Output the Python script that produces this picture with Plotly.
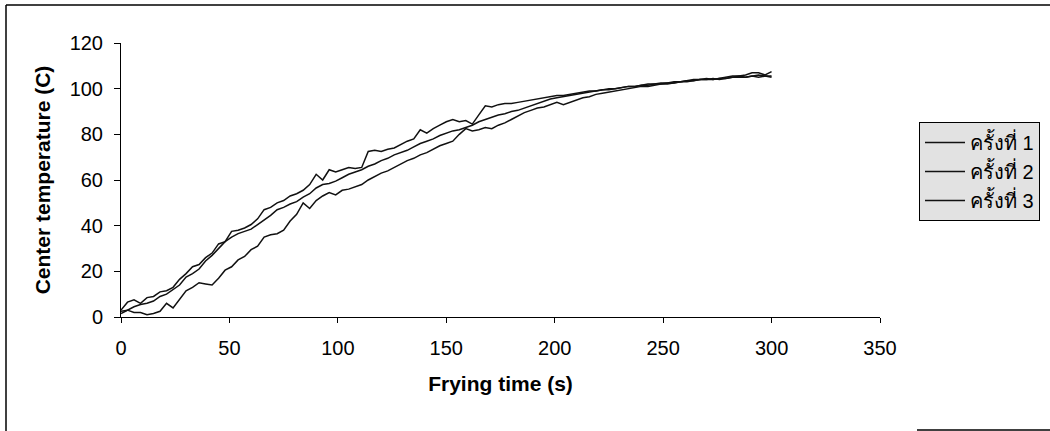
import plotly.graph_objects as go

# Frying time grid (s)
time_s = list(range(0, 301, 3))

# Center temperature (C) for each trial
trial1 = [
    1.5, 3, 4.5, 5.5, 6, 7, 9, 10, 12, 14,
    17.5, 19, 21, 24.5, 27, 30, 33, 35, 36.5, 37.5,
    38.5, 40.5, 42.5, 44.5, 47, 48, 49.5, 50.5, 52.5, 54,
    56.5, 58, 58.5, 59.5, 61, 62.5, 63.5, 64.5, 66, 67,
    68.5, 69.5, 71, 72, 73, 74.5, 76, 77, 78, 79.5,
    80.5, 81.5, 82, 83, 84, 85.5, 86.5, 87.5, 88.5, 89,
    90, 90.5, 91.5, 92.5, 93.5, 94.5, 95.5, 96, 96.5, 97,
    97.5, 98, 98.5, 99, 99.5, 99.5, 100, 100.5, 101, 101,
    101.5, 102, 102, 102.5, 102.5, 103, 103, 103.5, 103.5, 104,
    104, 104, 104.5, 104.5, 105, 105, 105, 105.5, 105, 105.5,
    105.5,
]
trial2 = [
    3, 6.5, 7.5, 6, 8.5, 9, 11, 11.5, 13, 16.5,
    19, 22, 23, 26, 28, 32, 33, 37.5, 38, 39,
    40.5, 43, 47, 48, 50, 51, 53, 54, 55.5, 58,
    62.5, 60, 64.5, 63.5, 64.5, 65.5, 65, 65.5, 72.5, 73,
    72.5, 73.5, 74, 75.5, 77, 78, 82, 80.5, 82.5, 84,
    85.5, 86.5, 85.5, 86, 84.5, 88.5, 92.5, 92, 93, 93.5,
    93.5, 94, 94.5, 95, 95.5, 96, 96.5, 97, 97, 97.5,
    98, 98.5, 99, 99, 99.5, 100, 100, 100.5, 101, 101,
    101.5, 101.5, 102, 102, 102.5, 102.5, 103, 103.5, 104, 104,
    104.5, 104, 104.5, 105, 105.5, 105.5, 106, 107, 107, 106,
    107.5,
]
trial3 = [
    2.5, 3, 2, 2, 1, 1.5, 2.5, 6, 4, 8,
    11.5, 13, 15, 14.5, 14, 17, 20.5, 22, 25, 26.5,
    29.5, 31, 35, 36, 36.5, 38, 42, 45, 50, 47.5,
    51, 53, 54.5, 53.5, 55.5, 56, 57, 58, 60, 61.5,
    63, 64, 65.5, 67, 68.5, 69.5, 71, 72, 73.5, 75,
    76, 77, 80, 82.5, 81.5, 82, 83, 82.5, 84, 85,
    86.5, 88, 89.5, 90.5, 91.5, 92, 93, 94, 93, 94,
    95, 96, 96.5, 97.5, 98, 98.5, 99, 99.5, 100, 100.5,
    101, 101, 101.5, 102, 102, 102.5, 103, 103, 103.5, 104,
    104, 104.5, 104, 104.5, 105, 105.5, 105, 105.5, 106, 105.5,
    105,
]

names = ["ครั้งที่ 1", "ครั้งที่ 2", "ครั้งที่ 3"]
x_ticks = [0, 50, 100, 150, 200, 250, 300, 350]
y_ticks = [0, 20, 40, 60, 80, 100, 120]

W, H = 1050, 431
fig = go.Figure()
for name, vals in zip(names, [trial1, trial2, trial3]):
    fig.add_trace(go.Scatter(x=time_s, y=vals, mode="lines", name=name,
                             line=dict(color="#111111", width=1.5)))

font_family = "Liberation Sans, Arial, Noto Sans, DejaVu Sans, sans-serif"
fig.update_layout(
    width=W, height=H,
    margin=dict(l=0, r=0, t=0, b=0, autoexpand=False),
    paper_bgcolor="white", plot_bgcolor="white",
    font=dict(family=font_family, size=20, color="black"),
    showlegend=True,
    legend=dict(x=919 / W, y=1 - 122 / H, xanchor="left", yanchor="top",
                bgcolor="#e2e2e2", bordercolor="black", borderwidth=1,
                font=dict(size=20, color="black"), itemwidth=40,
                tracegroupgap=0),
    xaxis=dict(domain=[121 / W, 880 / W], range=[0, 350],
               tickvals=x_ticks, ticks="outside", ticklen=5,
               tickcolor="black", showline=True, linecolor="black",
               linewidth=1, showgrid=False, zeroline=False,
               automargin=False, tickfont=dict(size=20),
               ticklabelstandoff=8,
               title=dict(text="<b>Frying time (s)</b>", font=dict(size=21),
                          standoff=18)),
    yaxis=dict(domain=[1 - 317 / H, 1 - 43 / H], range=[0, 120],
               tickvals=y_ticks, ticks="outside", ticklen=6,
               tickcolor="black", showline=True, linecolor="black",
               linewidth=1, showgrid=False, zeroline=False,
               automargin=False, tickfont=dict(size=20),
               ticklabelstandoff=7,
               title=dict(text="<b>Center temperature (C)</b>",
                          font=dict(size=21), standoff=13)),
)

# outer frame of the scanned figure
frame = dict(type="line", xref="paper", yref="paper",
             line=dict(color="black", width=1.5))
fig.add_shape(**frame, x0=6 / W, x1=1.0, y0=1 - 5 / H, y1=1 - 5 / H)
fig.add_shape(**frame, x0=6 / W, x1=6 / W, y0=1 - 5 / H, y1=0)
fig.add_shape(**frame, x0=917 / W, x1=1.0, y0=1 - 430 / H, y1=1 - 430 / H)

fig.write_html("out.html")
